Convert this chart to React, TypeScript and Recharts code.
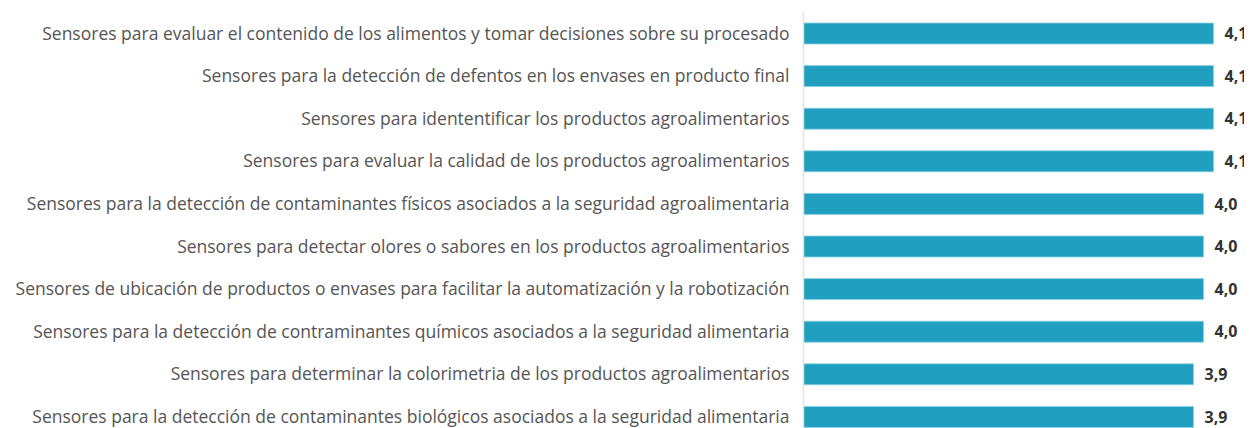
import React from "react";
import { BarChart, Bar, XAxis, YAxis, LabelList } from "recharts";

const categories = [
  "Sensores para evaluar el contenido de los alimentos y tomar decisiones sobre su procesado",
  "Sensores para la detección de defentos en los envases en producto final",
  "Sensores para idententificar los productos agroalimentarios",
  "Sensores para evaluar la calidad de los productos agroalimentarios",
  "Sensores para la detección de contaminantes físicos asociados a la seguridad agroalimentaria",
  "Sensores para detectar olores o sabores en los productos agroalimentarios",
  "Sensores de ubicación de productos o envases para facilitar la automatización y la robotización",
  "Sensores para la detección de contraminantes químicos asociados a la seguridad alimentaria",
  "Sensores para determinar la colorimetria de los productos agroalimentarios",
  "Sensores para la detección de contaminantes biológicos asociados a la seguridad alimentaria",
];
const values = [4.1, 4.1, 4.1, 4.1, 4.0, 4.0, 4.0, 4.0, 3.9, 3.9];

const data = categories.map((name, i) => ({ name, value: values[i] }));

const fmt = (v: any) => Number(v).toFixed(1).replace(".", ",");

export default function App() {
  return (
    <div style={{ fontFamily: "'Open Sans', sans-serif" }}>
      <BarChart
        width={1244}
        height={430}
        data={data}
        layout="vertical"
        margin={{ top: 4, right: 18.5, bottom: 0, left: 0 }}
        barCategoryGap="25%"
      >
        <XAxis type="number" domain={[0, 4.3]} hide />
        <YAxis
          type="category"
          dataKey="name"
          width={795.5}
          tickLine={false}
          tickMargin={8}
          axisLine={{ stroke: "#e3e3e3", strokeWidth: 1.5 }}
          tick={{ fill: "#555", fontSize: 17.5, fontFamily: "'Open Sans', sans-serif" }}
          interval={0}
        />
        <Bar
          dataKey="value"
          fill="#209fc1"
          stroke="#8fd0e2"
          strokeWidth={0.8}
          barSize={21}
          isAnimationActive={false}
        >
          <LabelList
            dataKey="value"
            position="right"
            offset={11}
            formatter={fmt}
            style={{ fill: "#333", fontSize: 16, fontWeight: 700, fontFamily: "'Open Sans', sans-serif" }}
          />
        </Bar>
      </BarChart>
    </div>
  );
}
